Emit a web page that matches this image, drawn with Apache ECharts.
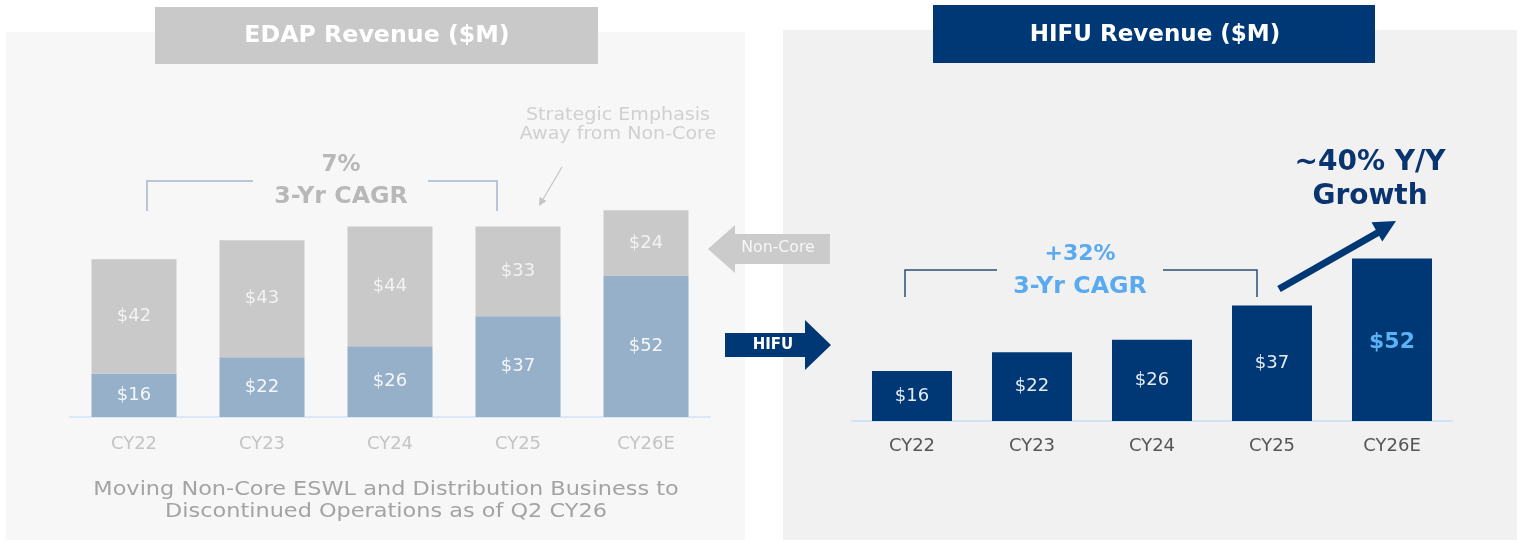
<!DOCTYPE html>
<html>
<head>
<meta charset="utf-8">
<script src="https://cdn.jsdelivr.net/npm/echarts@6/dist/echarts.min.js"></script>
<style>
html,body{margin:0;padding:0;background:#ffffff;}
#c{width:1524px;height:543px;}
</style>
</head>
<body>
<div id="c"></div>
<script>
const categories = ['CY22', 'CY23', 'CY24', 'CY25', 'CY26E'];
const hifuRevenue = [16, 22, 26, 37, 52];
const nonCoreRevenue = [42, 43, 44, 33, 24];

const FONT = '"DejaVu Sans", sans-serif';
const NAVY = '#003876';

const fmt = v => '$' + v;

function txt(x, y, text, size, color, weight, sx) {
  return {
    type: 'text', x: x, y: y, z: 10, scaleX: sx || 1,
    style: { text: text, font: (weight || 'normal') + ' ' + size + 'px ' + FONT,
      fill: color, textAlign: 'center', textVerticalAlign: 'middle' }
  };
}
function poly(points, fill) {
  return { type: 'polygon', z: 10, shape: { points: points }, style: { fill: fill } };
}
function pline(points, stroke, w) {
  return { type: 'polyline', z: 10, shape: { points: points }, style: { stroke: stroke, lineWidth: w, fill: null } };
}

const chart = echarts.init(document.getElementById('c'), null, { renderer: 'canvas' });

const option = {
  backgroundColor: '#ffffff',
  animation: false,
  textStyle: { fontFamily: FONT },
  grid: [
    { left: 70, width: 640, top: 199.4, bottom: 126, containLabel: false },
    { left: 852, width: 600, top: 233.5, bottom: 122, containLabel: false }
  ],
  xAxis: [
    { type: 'category', gridIndex: 0, data: categories,
      axisLine: { lineStyle: { color: '#dbe8f5', width: 2 } }, axisTick: { show: false },
      axisLabel: { color: '#c4c4c4', fontSize: 18, margin: 18, fontFamily: FONT } },
    { type: 'category', gridIndex: 1, data: categories,
      axisLine: { lineStyle: { color: '#cfe3f7', width: 2 } }, axisTick: { show: false },
      axisLabel: { color: '#555555', fontSize: 18, margin: 16, fontFamily: FONT } }
  ],
  yAxis: [
    { type: 'value', gridIndex: 0, min: 0, max: 80, show: false, splitLine: { show: false } },
    { type: 'value', gridIndex: 1, min: 0, max: 60, show: false, splitLine: { show: false } }
  ],
  series: [
    { name: 'HIFU', type: 'bar', stack: 'edap', xAxisIndex: 0, yAxisIndex: 0,
      data: hifuRevenue, barWidth: 85, itemStyle: { color: '#97b0c9' },
      label: { show: true, position: 'inside', formatter: p => fmt(p.value),
        color: '#f4f7fa', fontSize: 18, fontFamily: FONT } },
    { name: 'Non-Core', type: 'bar', stack: 'edap', xAxisIndex: 0, yAxisIndex: 0,
      data: nonCoreRevenue, barWidth: 85, itemStyle: { color: '#c9c9c9' },
      label: { show: true, position: 'inside', formatter: p => fmt(p.value),
        color: '#f2f2f2', fontSize: 18, fontFamily: FONT } },
    { name: 'HIFU Revenue', type: 'bar', xAxisIndex: 1, yAxisIndex: 1,
      barWidth: 80, itemStyle: { color: NAVY },
      data: hifuRevenue.map((v, i) => i === hifuRevenue.length - 1
        ? { value: v, label: { color: '#5ab2f2', fontSize: 22, fontWeight: 'bold', offset: [0, 3] } }
        : { value: v }),
      label: { show: true, position: 'inside', formatter: p => fmt(p.value),
        color: '#e6ebf2', fontSize: 18, fontFamily: FONT } }
  ],
  graphic: [
    { type: 'rect', z: -10, shape: { x: 6, y: 32, width: 739, height: 508 }, style: { fill: '#f7f7f7' } },
    { type: 'rect', z: -10, shape: { x: 783, y: 30, width: 734, height: 510 }, style: { fill: '#f1f1f1' } },
    { type: 'rect', z: 5, shape: { x: 155, y: 7, width: 443, height: 57 }, style: { fill: '#c9c9c9' } },
    txt(377, 36, 'EDAP Revenue ($M)', 23, '#ffffff', 'bold', 1.03),
    { type: 'rect', z: 5, shape: { x: 933, y: 5, width: 442, height: 58 }, style: { fill: NAVY } },
    txt(1155, 35, 'HIFU Revenue ($M)', 23, '#ffffff', 'bold'),
    txt(341, 165, '7%', 23, '#b8b8b8', 'bold'),
    txt(341, 197, '3-Yr CAGR', 23, '#b8b8b8', 'bold', 1.03),
    pline([[147, 211], [147, 181], [253, 181]], '#a3b8cd', 1.5),
    pline([[428, 181], [497, 181], [497, 211]], '#a3b8cd', 1.5),
    txt(618, 115, 'Strategic Emphasis', 18, '#d0d0d0', 'normal', 1.06),
    txt(618, 134, 'Away from Non-Core', 18, '#d0d0d0', 'normal', 1.06),
    pline([[562, 167], [542, 201]], '#c4c4c4', 1.2),
    poly([[539, 206], [546.4, 201.1], [539.6, 197.1]], '#c4c4c4'),
    poly([[708, 249], [735, 225], [735, 234], [830, 234], [830, 264], [735, 264], [735, 273]], '#cbcbcb'),
    txt(778, 248, 'Non-Core', 15, '#f6f6f6', 'normal', 1.05),
    poly([[725, 333], [805, 333], [805, 320], [831, 345], [805, 370], [805, 357], [725, 357]], NAVY),
    txt(773, 345, 'HIFU', 15, '#ffffff', 'bold'),
    txt(386, 490, 'Moving Non-Core ESWL and Distribution Business to', 20, '#a3a3a3', 'normal', 1.12),
    txt(386, 512, 'Discontinued Operations as of Q2 CY26', 20, '#a3a3a3', 'normal', 1.12),
    txt(1080, 254, '+32%', 22, '#5aaaf0', 'bold'),
    txt(1080, 287, '3-Yr CAGR', 23, '#5aaaf0', 'bold', 1.03),
    pline([[905, 297], [905, 270], [997, 270]], '#2d4d75', 1.5),
    pline([[1163, 270], [1257, 270], [1257, 297]], '#2d4d75', 1.5),
    txt(1370, 163, '~40% Y/Y', 28, '#0a3470', 'bold'),
    txt(1370, 197, 'Growth', 28, '#0a3470', 'bold'),
    pline([[1279, 289], [1379, 232]], NAVY, 7),
    poly([[1396, 221], [1382.3, 241.5], [1371.5, 222.3]], NAVY)
  ]
};
chart.setOption(option);
</script>
</body>
</html>
